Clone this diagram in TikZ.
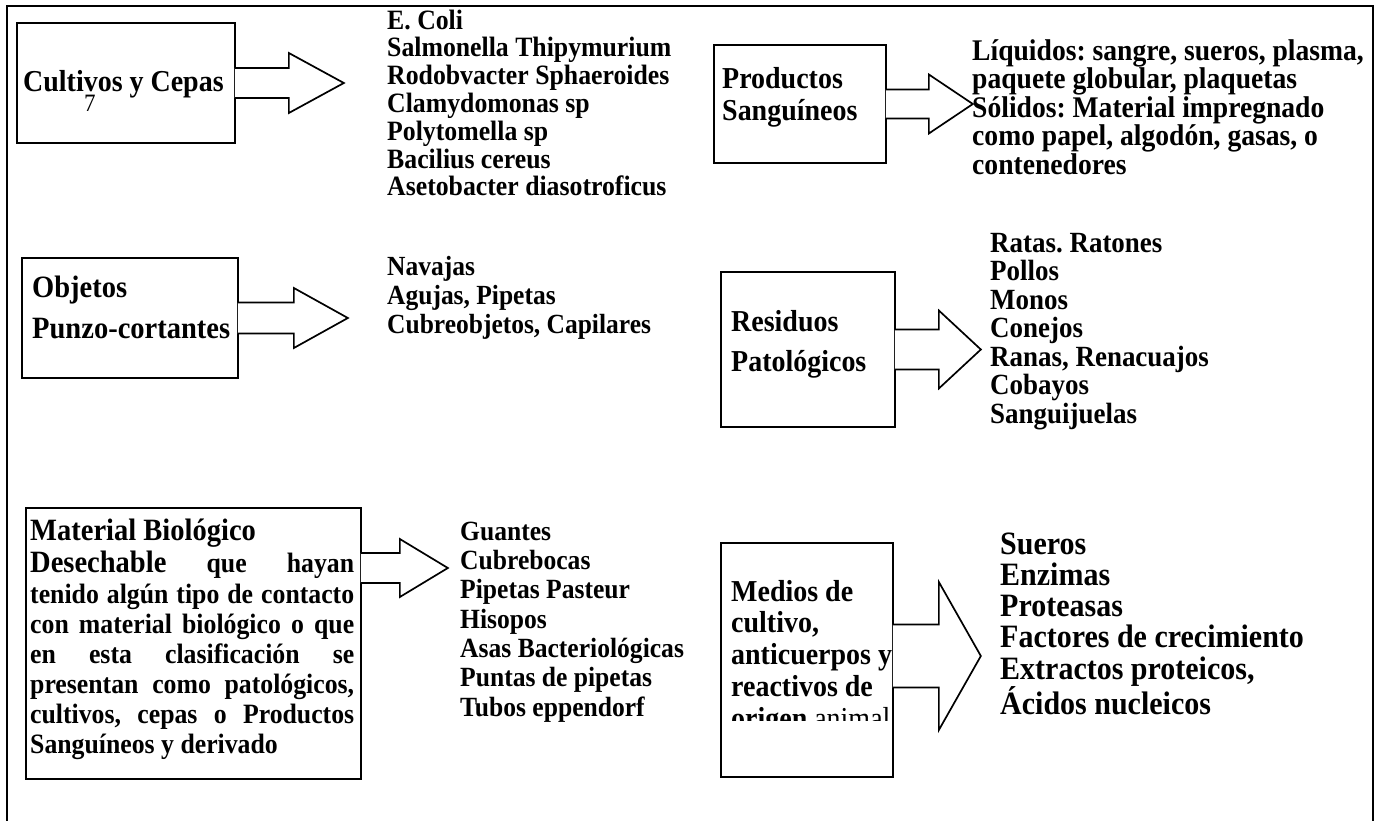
\documentclass[tikz,border=0pt]{standalone}
\usepackage{fontspec}
\setmainfont{Liberation Serif}[FakeStretch=0.92]
\usetikzlibrary{calc}

% bold text at a given size and line spacing
\newcommand{\fsz}[2]{\fontsize{#1pt}{#2pt}\selectfont\bfseries}
% fixed height for the first line of a multi-line label
\newcommand{\topline}{\rule{0pt}{24pt}}

\tikzset{
  frameline/.style={line width=2.4pt},
  box/.style={draw, line width=1.7pt, inner sep=0pt},
  blk/.style={line width=1.7pt, line join=miter},
  lbl/.style={inner sep=0pt, anchor=base west},
  lst/.style={inner sep=0pt, anchor=north west, align=left},
}

% block arrow leaving a box: #1 start point on the box edge, #2 half shaft,
% #3 head base offset, #4 half head, #5 tip offset
\newcommand{\blockarrow}[5]{%
  \fill[white] ($(#1)+(-1,#2)$) -- ($(#1)+(#3,#2)$) -- ($(#1)+(#3,#4)$) -- ($(#1)+(#5,0)$)
     -- ($(#1)+(#3,-#4)$) -- ($(#1)+(#3,-#2)$) -- ($(#1)+(-1,-#2)$) -- cycle;
  \draw[blk] ($(#1)+(-0.85,#2)$) -- ($(#1)+(#3,#2)$) -- ($(#1)+(#3,#4)$) -- ($(#1)+(#5,0)$)
     -- ($(#1)+(#3,-#4)$) -- ($(#1)+(#3,-#2)$) -- ($(#1)+(-0.85,-#2)$);
}

\begin{document}
\frenchspacing
\begin{tikzpicture}[x=1pt, y=-1pt]
\useasboundingbox (0,0) rectangle (1381,821);

% open frame around the page
\draw[frameline] (7,823) -- (7,6) -- (1373,6) -- (1373,823);

% category boxes
\node[box, minimum width=218pt, minimum height=120pt] (b1) at (126,83) {};
\node[box, minimum width=172pt, minimum height=118pt] (b2) at (800,104) {};
\node[box, minimum width=216pt, minimum height=120pt] (b3) at (130,318) {};
\node[box, minimum width=174pt, minimum height=155pt] (b4) at (808,349.5) {};
\node[box, minimum width=335pt, minimum height=271pt] (b5) at (193.5,643.5) {};
\node[box, minimum width=172pt, minimum height=234pt] (b6) at (807,660) {};

% arrows from each box to its list
\coordinate (p1) at (b1.east);
\coordinate (p2) at (b2.east);
\coordinate (p3) at (b3.east);
\coordinate (p4) at (b4.east);
\coordinate (p5) at ($(b5.east)+(0,-75.5)$);
\coordinate (p6) at ($(b6.east)+(0,-4)$);
\blockarrow{p1}{15}{53}{30}{108}
\blockarrow{p2}{14.5}{42}{29.5}{86}
\blockarrow{p3}{15.5}{55}{30}{109}
\blockarrow{p4}{20}{43}{39}{85}
\blockarrow{p5}{15}{38}{29}{86}
\blockarrow{p6}{31.5}{45}{74}{87}

% box titles
\node[lbl, font=\fsz{30.4}{32}] (t1) at (23,92) {Cultivos y Cepas};
\node[lbl, font=\fontsize{25pt}{25pt}\selectfont] (seven) at (84,112) {7};
\node[lst, font=\fsz{30.4}{32}] (t2) at (722,64) {\topline Productos\\Sanguíneos};
\node[lst, font=\fsz{31}{41}] (t3) at (32,273) {\topline Objetos\\Punzo-cortantes};
\node[lst, font=\fsz{30.4}{40}] (t4) at (731,307) {\topline Residuos\\Patológicos};

% justified description in the large box
\node[lbl, font=\fsz{31}{30}] (m1) at (30,540) {Material Biológico};
\node[lbl, font=\fsz{28}{30}] (m2) at (30,572) {\makebox[324pt][s]{{\fontsize{31pt}{30pt}\selectfont Desechable} que hayan}};
\node[lbl, font=\fsz{28}{30}] (m3) at (30,603) {\makebox[324pt][s]{tenido algún tipo de contacto}};
\node[lbl, font=\fsz{28}{30}] (m4) at (30,633) {\makebox[324pt][s]{con material biológico o que}};
\node[lbl, font=\fsz{28}{30}] (m5) at (30,663) {\makebox[324pt][s]{en esta clasificación se}};
\node[lbl, font=\fsz{28}{30}] (m6) at (30,693) {\makebox[324pt][s]{presentan como patológicos,}};
\node[lbl, font=\fsz{28}{30}] (m7) at (30,723) {\makebox[324pt][s]{cultivos, cepas o Productos}};
\node[lbl, font=\fsz{28}{30}] (m8) at (30,753) {Sanguíneos y derivado};

% title of the last box, cut off at the bottom of its text area
\begin{scope}
  \clip ([xshift=1pt]b6.north west) rectangle ([xshift=-1pt,yshift=57pt]b6.south east);
  \node[lst, font=\fsz{30.4}{31.7}] (t6) at (731,577)
    {\topline Medios de\\cultivo,\\anticuerpos y\\reactivos de\\origen {\mdseries animal}};
\end{scope}

% lists
\node[lst, font=\fsz{28}{27.8}] (l1) at (387,5)
  {\topline E. Coli\\Salmonella Thipymurium\\Rodobvacter Sphaeroides\\Clamydomonas sp\\Polytomella sp\\Bacilius cereus\\Asetobacter diasotroficus};
\node[lst, font=\fsz{30}{28.6}] (l2) at (972,36)
  {\topline Líquidos: sangre, sueros, plasma,\\paquete globular, plaquetas\\Sólidos: Material impregnado\\como papel, algodón, gasas, o\\contenedores};
\node[lst, font=\fsz{27.7}{29}] (l3) at (387,251)
  {\topline Navajas\\Agujas, Pipetas\\Cubreobjetos, Capilares};
\node[lst, font=\fsz{29.3}{28.5}] (l4) at (990,228)
  {\topline Ratas. Ratones\\Pollos\\Monos\\Conejos\\Ranas, Renacuajos\\Cobayos\\Sanguijuelas};
\node[lst, font=\fsz{27.8}{29.3}] (l5) at (460,516)
  {\topline Guantes\\Cubrebocas\\Pipetas Pasteur\\Hisopos\\Asas Bacteriológicas\\Puntas de pipetas\\Tubos eppendorf};
\node[lst, font=\fsz{32.6}{31.2}] (l6) at (1000,530)
  {\topline Sueros\\Enzimas\\Proteasas\\Factores de crecimiento\\Extractos proteicos,\\Ácidos nucleicos};
\end{tikzpicture}
\end{document}
